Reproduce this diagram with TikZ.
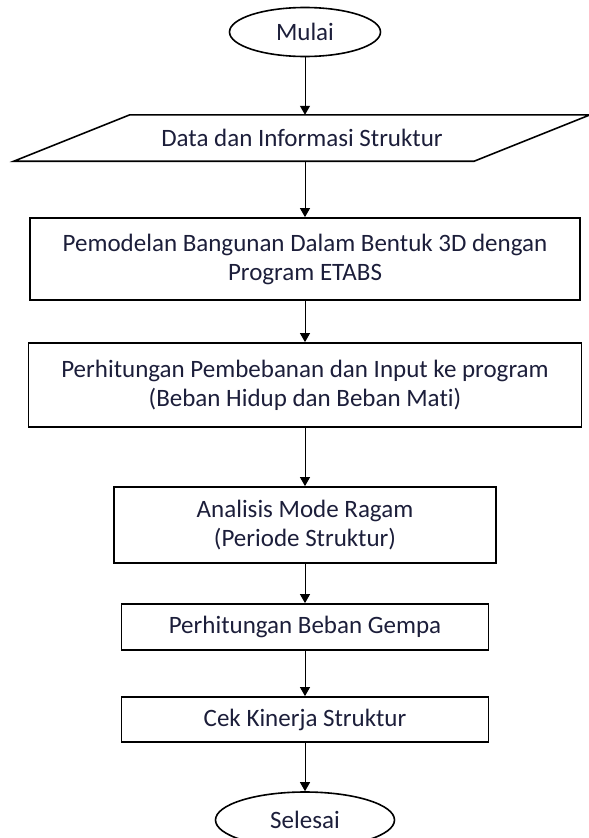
\documentclass[tikz,border=0pt]{standalone}
\usepackage{fontspec}
\setmainfont{Carlito}[Ligatures=NoCommon]
\usetikzlibrary{arrows.meta, shapes.geometric}
\definecolor{txt}{RGB}{28,30,58}
\newcommand\colx{305}
\newcommand\slant{58}

\begin{document}
\begin{tikzpicture}[x=1pt, y=-1pt,
    terminal/.style={ellipse, draw, line width=1.6pt, inner sep=0pt},
    io/.style={rectangle, minimum width=460pt, minimum height=46pt, inner sep=0pt},
    process/.style={rectangle, draw, line width=1.8pt, align=center, inner sep=0pt},
    flow/.style={-{Triangle[width=10pt, length=9pt]}, line width=1pt},
    font=\fontsize{25}{29}\selectfont, text=txt]

    \useasboundingbox (0, 0) rectangle (589, 838);

    % Start and input
    \node at (\colx, 32) [terminal, minimum width=151pt, minimum height=49pt] (mulai) {Mulai};
    \node at (\colx - 3, 138) [io] (data) {Data dan Informasi Struktur};
    \draw[line width=1.6pt] ([xshift=-\slant pt]data.south west) -- ([xshift=-\slant pt]data.south east)
        -- ([xshift=\slant pt]data.north east) -- ([xshift=\slant pt]data.north west) -- cycle;

    % Process steps
    \node at (\colx, 259) [process, minimum width=550pt, minimum height=82pt] (model)
        {Pemodelan Bangunan Dalam Bentuk 3D dengan\\Program ETABS};
    \node at (\colx, 385) [process, minimum width=553pt, minimum height=84pt] (beban)
        {Perhitungan Pembebanan dan Input ke program\\(Beban Hidup dan Beban Mati)};
    \node at (\colx, 525) [process, minimum width=382pt, minimum height=76pt] (ragam)
        {Analisis Mode Ragam\\(Periode Struktur)};
    \node at (\colx, 627) [process, minimum width=367pt, minimum height=46pt] (gempa)
        {Perhitungan Beban Gempa};
    \node at (\colx, 719.5) [process, minimum width=367pt, minimum height=45pt] (kinerja)
        {Cek Kinerja Struktur};

    % End
    \node at (\colx, 820) [terminal, minimum width=179pt, minimum height=56pt] (selesai) {Selesai};

    \draw[flow] (mulai.south) -- (mulai.south |- data.north);
    \draw[flow] (mulai.south |- data.south) -- (model.north);
    \draw[flow] (model.south) -- (beban.north);
    \draw[flow] (beban.south) -- (ragam.north);
    \draw[flow] (ragam.south) -- (gempa.north);
    \draw[flow] (gempa.south) -- (kinerja.north);
    \draw[flow] (kinerja.south) -- (selesai.north);

\end{tikzpicture}
\end{document}
